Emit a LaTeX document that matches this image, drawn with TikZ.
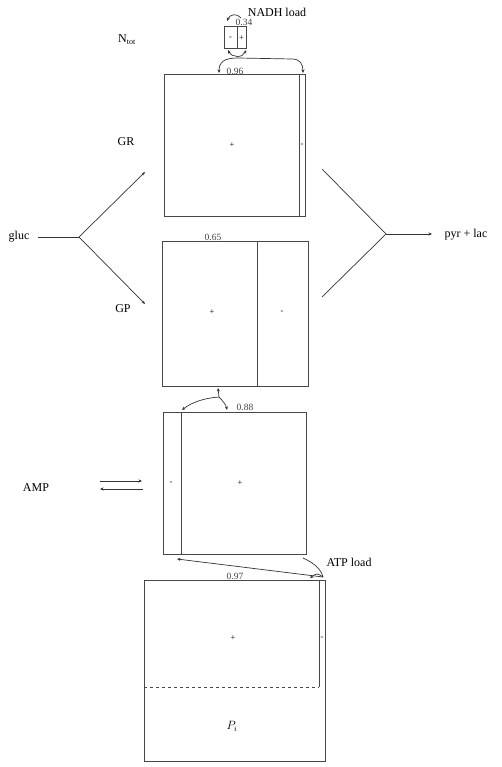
\documentclass[tikz,border=0pt]{standalone}
\usepackage{fontspec}
\setmainfont{Liberation Serif}
\usetikzlibrary{arrows.meta}
\begin{document}
\begin{tikzpicture}[x=1pt,y=-1pt,
  box/.style={draw=black!72, line width=1pt},
  conn/.style={draw=black!80, line width=0.7pt},
  arr/.style={conn, -{Stealth[length=3.5pt,width=3pt]}},
  lbl/.style={font=\fontsize{12}{14}\selectfont, inner sep=0pt},
  num/.style={font=\fontsize{9.5}{11}\selectfont, inner sep=0pt, text=black!75},
  sgn/.style={font=\fontsize{8.5}{9}\selectfont, inner sep=0pt}]
\useasboundingbox (0,0) rectangle (502,767);

% NADH box
\draw[box] (224,27) rectangle (246,49);
\draw[box] (237,27) -- (237,49);
\node[sgn] (nm) at (230.5,38) {-};
\node[sgn] (np) at (241.5,38) {+};

% GR box
\draw[box] (164,75) rectangle (305,216);
\draw[box] (299,75) -- (299,216);
\node[sgn] (grp) at (232,145) {+};
\node[sgn] (grm) at (302,145) {-};

% GP box
\draw[box] (162,241) rectangle (308,386);
\draw[box] (257,241) -- (257,386);
\node[sgn] (gpp) at (212,312) {+};
\node[sgn] (gpm) at (282,312) {-};

% AMP box
\draw[box] (163,412) rectangle (306,554);
\draw[box] (181,412) -- (181,554);
\node[sgn] (am) at (171,483) {-};
\node[sgn] (ap) at (240,483) {+};

% bottom box
\draw[box] (144,580) rectangle (325,761);
\draw[box] (319,580) -- (319,687);
\draw[box, dashed] (144,687) -- (319,687);
\node[sgn] (bp) at (233,638) {+};
\node[sgn] (bm) at (322,638) {-};

% labels
\node[lbl] (ntot) at (127,40) {N\textsubscript{tot}};
\node[lbl] (nadh) at (277,12) {NADH load};
\node[lbl] (gr) at (126,142) {GR};
\node[lbl] (gp) at (123,309) {GP};
\node[lbl] (gluc) at (19,237) {gluc};
\node[lbl] (pyr) at (466,235) {pyr + lac};
\node[lbl] (amp) at (36,488) {AMP};
\node[lbl] (atp) at (349,562) {ATP load};
\node[lbl] (pi) at (232,726) {$P_i$};
\node[num] (n34) at (244,22) {0.34};
\node[num] (n96) at (235,71) {0.96};
\node[num] (n65) at (213,237) {0.65};
\node[num] (n88) at (245,407) {0.88};
\node[num] (n97) at (235,576) {0.97};

% gluc branching
\coordinate (gs) at (38,237);
\coordinate (gsplit) at (79,237);
\coordinate (grin) at (145,172);
\coordinate (gpin) at (145,304);
\draw[conn] (gs) -- (gsplit);
\draw[arr] (gsplit) -- (grin);
\draw[arr] (gsplit) -- (gpin);

% merging to pyr + lac
\coordinate (grout) at (322,169);
\coordinate (gpout) at (322,297);
\coordinate (merge) at (386,234);
\coordinate (pyrin) at (432,234);
\draw[conn] (grout) -- (merge);
\draw[conn] (gpout) -- (merge);
\draw[arr] (merge) -- (pyrin);

% NADH arrows
\coordinate (ta) at (241,18);
\coordinate (tb) at (227,21);
\draw[arr] (ta) .. controls (237,13) and (230,14) .. (tb);
\coordinate (sa) at (228,50);
\coordinate (sb) at (246,50);
\draw[arr, {Stealth[length=3.5pt,width=3pt]}-{Stealth[length=3.5pt,width=3pt]}] (sa) .. controls (232,58) and (243,58) .. (sb);
\coordinate (nhub) at (238,58);
\coordinate (grl) at (219,73);
\coordinate (grr) at (303,73);
\draw[arr] (nhub) .. controls (224,58) and (219,62) .. (grl);
\draw[arr] (nhub) -- (292,59) .. controls (300,59) and (303,64) .. (grr);

% GP - AMP arrows
\coordinate (mhub) at (219,397);
\coordinate (gpbot) at (218,388);
\coordinate (ampdiv) at (182,410);
\coordinate (amptop) at (227,410);
\draw[arr] (mhub) -- (gpbot);
\draw[arr] (mhub) .. controls (205,398) and (192,402) .. (ampdiv);
\draw[arr] (mhub) .. controls (223,401) and (226,405) .. (amptop);

% ATP arrows
\coordinate (ahub) at (323,577);
\coordinate (ampbr) at (303,558);
\coordinate (ampdivb) at (177,559);
\coordinate (btop) at (310,578);
\draw[conn] (ampbr) .. controls (314,563) and (321,569) .. (ahub);
\draw[arr] (ahub) -- (ampdivb);
\draw[arr] (ahub) .. controls (317,573) .. (btop);

% AMP exchange arrows
\coordinate (ea) at (100,481);
\coordinate (eb) at (142,481);
\coordinate (ec) at (143,489);
\coordinate (ed) at (100,489);
\draw[arr] (ea) -- (eb);
\draw[arr] (ec) -- (ed);
\end{tikzpicture}
\end{document}
